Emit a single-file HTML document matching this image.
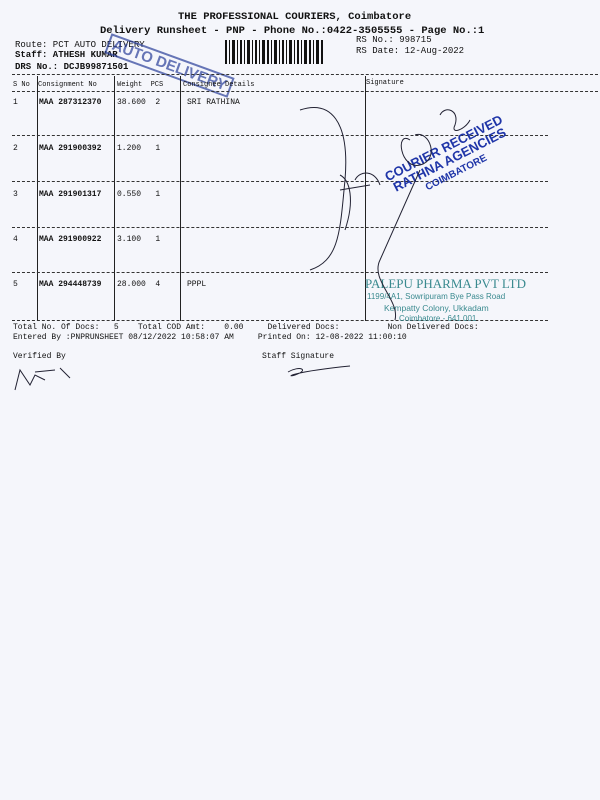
<!DOCTYPE html>
<html><head><meta charset="utf-8"><style>
body{margin:0;width:600px;height:800px;background:#f5f6fb;position:relative;overflow:hidden;font-family:"Liberation Mono","DejaVu Sans Mono",monospace;color:#111}
.t{position:absolute;white-space:pre;font-size:8px}
.b{font-weight:bold}
.h{position:absolute;border-top:1px dashed #333;height:0}
.v{position:absolute;width:1px;background:#222}
</style></head><body>
<div class="t b" style="left:178px;top:11px;font-size:10.5px">THE PROFESSIONAL COURIERS, Coimbatore</div>
<div class="t b" style="left:100px;top:25px;font-size:10.5px">Delivery Runsheet - PNP - Phone No.:0422-3505555 - Page No.:1</div>
<div class="t" style="left:15px;top:40px;font-size:9px">Route: PCT AUTO DELIVERY</div>
<div class="t b" style="left:15px;top:50px;font-size:9px">Staff: ATHESH KUMAR</div>
<div class="t b" style="left:15px;top:62px;font-size:9px">DRS No.: DCJB99871501</div>
<div class="t" style="left:356px;top:35px;font-size:9px">RS No.: 998715</div>
<div class="t" style="left:356px;top:46px;font-size:9px">RS Date: 12-Aug-2022</div>
<svg style="position:absolute;left:225px;top:40px" width="100" height="24">
<g fill="#111">
<rect x="0" y="0" width="2" height="24"/><rect x="4" y="0" width="1" height="24"/><rect x="7" y="0" width="3" height="24"/><rect x="12" y="0" width="1" height="24"/><rect x="15" y="0" width="2" height="24"/><rect x="19" y="0" width="1" height="24"/><rect x="22" y="0" width="3" height="24"/><rect x="27" y="0" width="1" height="24"/><rect x="30" y="0" width="2" height="24"/><rect x="34" y="0" width="1" height="24"/><rect x="37" y="0" width="3" height="24"/><rect x="42" y="0" width="2" height="24"/><rect x="46" y="0" width="1" height="24"/><rect x="49" y="0" width="3" height="24"/><rect x="54" y="0" width="1" height="24"/><rect x="57" y="0" width="2" height="24"/><rect x="61" y="0" width="1" height="24"/><rect x="64" y="0" width="3" height="24"/><rect x="69" y="0" width="1" height="24"/><rect x="72" y="0" width="2" height="24"/><rect x="76" y="0" width="1" height="24"/><rect x="79" y="0" width="3" height="24"/><rect x="84" y="0" width="2" height="24"/><rect x="88" y="0" width="1" height="24"/><rect x="91" y="0" width="3" height="24"/><rect x="96" y="0" width="2" height="24"/></g></svg>
<div class="t b" style="left:104px;top:55px;font-size:15px;color:#2a3f9a;opacity:.7;transform:rotate(20deg);border:2px solid #2a3f9a;padding:0 3px;font-family:'Liberation Sans',sans-serif">AUTO DELIVERY</div>

<div class="h" style="left:12px;top:74px;width:586px"></div>
<div class="h" style="left:12px;top:91px;width:586px"></div>
<div class="t" style="left:13px;top:81px;font-size:7px">S No</div>
<div class="t" style="left:38px;top:81px;font-size:7px">Consignment No</div>
<div class="t" style="left:117px;top:81px;font-size:7px">Weight  PCS</div>
<div class="t" style="left:183px;top:81px;font-size:7px">Consignee Details</div>
<div class="t" style="left:366px;top:79px;font-size:7px">Signature</div>
<div class="v" style="left:37px;top:76px;height:245px"></div>
<div class="v" style="left:114px;top:76px;height:245px"></div>
<div class="v" style="left:180px;top:76px;height:245px"></div>
<div class="v" style="left:365px;top:76px;height:245px"></div>

<div class="t" style="left:13px;top:98px">1</div><div class="t b" style="left:39px;top:98px">MAA 287312370</div><div class="t" style="left:117px;top:98px">38.600  2</div><div class="t" style="left:187px;top:98px">SRI RATHINA</div>
<div class="h" style="left:12px;top:135px;width:536px"></div>
<div class="t" style="left:13px;top:144px">2</div><div class="t b" style="left:39px;top:144px">MAA 291900392</div><div class="t" style="left:117px;top:144px">1.200   1</div>
<div class="h" style="left:12px;top:181px;width:536px"></div>
<div class="t" style="left:13px;top:190px">3</div><div class="t b" style="left:39px;top:190px">MAA 291901317</div><div class="t" style="left:117px;top:190px">0.550   1</div>
<div class="h" style="left:12px;top:227px;width:536px"></div>
<div class="t" style="left:13px;top:235px">4</div><div class="t b" style="left:39px;top:235px">MAA 291900922</div><div class="t" style="left:117px;top:235px">3.100   1</div>
<div class="h" style="left:12px;top:272px;width:536px"></div>
<div class="t" style="left:13px;top:280px">5</div><div class="t b" style="left:39px;top:280px">MAA 294448739</div><div class="t" style="left:117px;top:280px">28.000  4</div><div class="t" style="left:187px;top:280px">PPPL</div>
<div class="h" style="left:12px;top:320px;width:536px"></div>

<div class="t" style="left:13px;top:323px">Total No. Of Docs:   5    Total COD Amt:    0.00     Delivered Docs:          Non Delivered Docs:</div>
<div class="t" style="left:13px;top:333px">Entered By :PNPRUNSHEET 08/12/2022 10:58:07 AM     Printed On: 12-08-2022 11:00:10</div>
<div class="t" style="left:13px;top:352px">Verified By</div>
<div class="t" style="left:262px;top:352px">Staff Signature</div>

<div class="t" style="left:365px;top:276px;font-size:13px;color:#3a8a8f;font-family:'Liberation Serif',serif">PALEPU PHARMA PVT LTD</div>
<div class="t" style="left:367px;top:292px;font-size:8px;color:#3a8a8f;font-family:'Liberation Sans',sans-serif">1199/4A1, Sowripuram Bye Pass Road</div>
<div class="t" style="left:384px;top:303px;font-size:8.5px;color:#3a8a8f;font-family:'Liberation Sans',sans-serif">Kempatty Colony, Ukkadam</div>
<div class="t" style="left:399px;top:314px;font-size:8px;color:#3a8a8f;font-family:'Liberation Sans',sans-serif">Coimbatore - 641 001</div>

<div class="t b" style="left:385px;top:140px;font-size:13px;line-height:13px;color:#1f35a8;transform:rotate(-27deg);font-family:'Liberation Sans',sans-serif;text-align:center">COURIER RECEIVED
RATHNA AGENCIES
<span style="font-size:10px">COIMBATORE</span></div>

<svg style="position:absolute;left:0;top:0" width="600" height="800" fill="none" stroke="#223" stroke-width="1">
<path d="M300 110 C 330 100, 350 120, 345 180 C 340 230, 340 260, 310 270"/>
<path d="M340 175 C 350 180, 355 200, 345 230 M340 190 L 370 185 M355 180 C 360 170, 375 170, 380 185"/>
<path d="M410 140 C 395 130, 400 170, 420 165 C 440 160, 430 130, 415 135 M440 115 C 445 105, 460 110, 455 125 C 450 135, 465 130, 470 120"/>
<path d="M420 170 L 380 260 C 370 280, 400 300, 395 320"/>
<path d="M15 390 L 20 370 L 30 385 L 35 375 L 45 380 M35 372 L 55 370 M60 368 L 70 378"/>
<path d="M288 372 C 300 365, 310 370, 295 375 C 285 378, 290 372, 350 366"/>
</svg>
</body></html>
